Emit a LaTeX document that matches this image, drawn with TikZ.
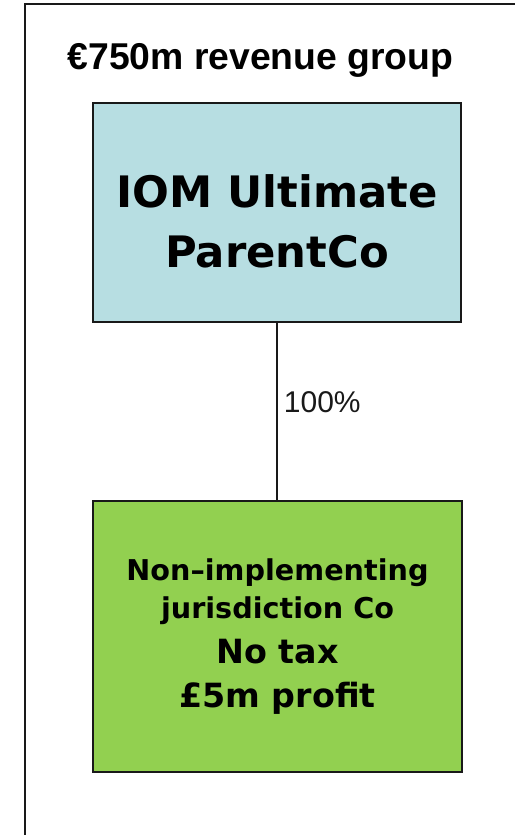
\documentclass[tikz,border=0pt]{standalone}
\usepackage{fontspec}
\setmainfont{Liberation Sans}
\newfontfamily\boxfont{DejaVu Sans}
\definecolor{parentblue}{RGB}{183,222,226}
\definecolor{childgreen}{RGB}{146,208,80}
\newcommand{\bigline}[1]{{\fontsize{25}{33}\selectfont #1}}
\tikzset{
  frameline/.style={line width=1.6pt, black!90},
  cobox/.style={draw=black!90, line width=1.7pt, inner sep=0pt},
  connector/.style={line width=1.4pt, black!90},
}
\begin{document}
\begin{tikzpicture}[x=0.75pt,y=-0.75pt]
\useasboundingbox (0,0) rectangle (514,835);
% outer group frame (extends beyond the picture at right and bottom)
\coordinate (frameTR) at (520,4);
\coordinate (frameTL) at (25,4);
\coordinate (frameBL) at (25,840);
\draw[frameline] (frameTR) -- (frameTL) -- (frameBL);
\node[font=\bfseries\fontsize{28}{32}\selectfont, anchor=base, inner sep=0pt] (title) at (260.5,69) {€750m revenue group};
% boxes
\node[cobox, fill=parentblue, minimum width=368*0.75pt, minimum height=219*0.75pt] (parent) at (277,212.5) {};
\node[cobox, fill=childgreen, minimum width=369*0.75pt, minimum height=271*0.75pt] (child) at (277.5,636.5) {};
\node[font=\boxfont\bfseries\fontsize{32.5}{45}\selectfont, align=center, anchor=base, inner sep=0pt] (parenttext) at (277,267) {IOM Ultimate\\ParentCo};
\node[font=\boxfont\bfseries\fontsize{21.5}{28.5}\selectfont, align=center, anchor=base, inner sep=0pt] (childtext) at (277.5,707) {Non–implementing\\jurisdiction Co\\[5.25pt]\bigline{No tax}\\[4.5pt]\bigline{£5m profit}};
% connector
\draw[connector] (parent.south -| 277,0) -- (child.north -| 277,0) node[pos=0.5, anchor=base west, font=\fontsize{22.5}{27}\selectfont, inner sep=0pt, xshift=4.5pt, yshift=-1pt] (share) {100\%};
\end{tikzpicture}
\end{document}
